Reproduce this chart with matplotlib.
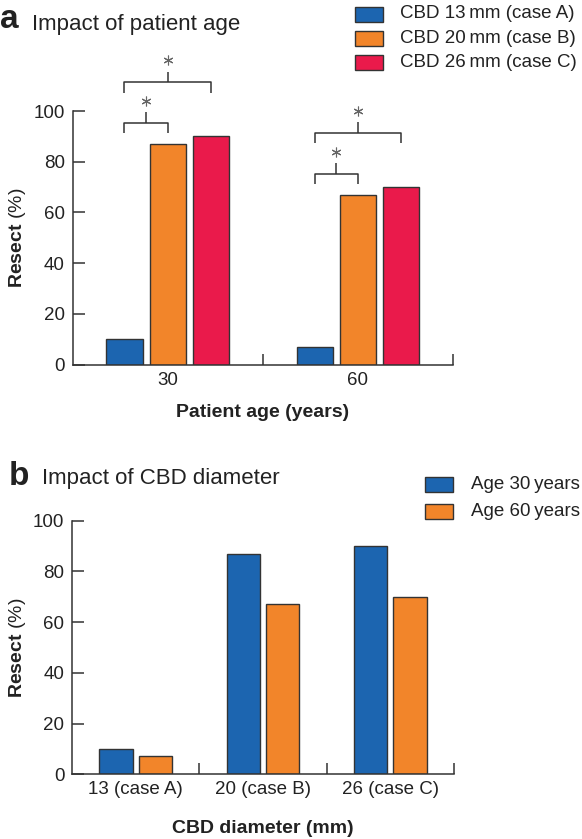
import matplotlib
matplotlib.use("Agg")
import matplotlib.pyplot as plt
from matplotlib.patches import Rectangle

plt.rcParams["font.family"] = ["Liberation Sans", "DejaVu Sans"]
plt.rcParams["mathtext.fontset"] = "custom"
plt.rcParams["mathtext.rm"] = "Liberation Sans"
plt.rcParams["mathtext.bf"] = "Liberation Sans:bold"

# --- data ---
ages = ["30", "60"]
cases = ["13 (case A)", "20 (case B)", "26 (case C)"]
case_keys = ["CBD 13\u2009mm (case A)", "CBD 20\u2009mm (case B)", "CBD 26\u2009mm (case C)"]
age_keys = ["Age 30\u2009years", "Age 60\u2009years"]
resect_age30 = [10, 87, 90]
resect_age60 = [7, 67, 70]

BLUE = "#1c65b0"
ORANGE = "#f2852a"
RED = "#ea1a4b"
EDGE = "#333333"
INK = "#222222"
case_colors = [BLUE, ORANGE, RED]
age_colors = [BLUE, ORANGE]

W, H = 582, 839
fig = plt.figure(figsize=(W / 100, H / 100), dpi=100)


def fx(px):
    return px / W


def fy(py):
    return 1 - py / H


def style_axes(ax, n_groups):
    for s in ["top", "right"]:
        ax.spines[s].set_visible(False)
    for s in ["left", "bottom"]:
        ax.spines[s].set_color(EDGE)
        ax.spines[s].set_linewidth(1.1)
    ax.set_ylim(0, 100)
    ax.set_xlim(-0.5, n_groups - 0.5)
    ax.set_yticks(range(0, 101, 20))
    ax.tick_params(axis="y", direction="in", length=8.6, width=1.1, color=EDGE,
                   labelsize=13.5, labelcolor=INK, pad=5.5)
    ax.tick_params(axis="x", which="major", length=0, labelsize=13.5,
                   labelcolor=INK, pad=5)
    ax.set_xticks([i + 0.5 for i in range(n_groups)], minor=True)
    ax.tick_params(axis="x", which="minor", direction="in", length=8,
                   width=1.1, color=EDGE)


def bracket(ax, x0, x1, y, leg=4.1, stem=4.2, star=8.7):
    kw = dict(color=EDGE, lw=1.1, clip_on=False, solid_capstyle="butt")
    ax.plot([x0, x0, x1, x1], [y - leg, y, y, y - leg], **kw)
    xm = (x0 + x1) / 2
    ax.plot([xm, xm], [y, y + stem], **kw)
    ax.plot([xm], [y + star], marker=(6, 2, 0), ms=7, mew=0.8,
            color="#666666", clip_on=False)


def draw_key(x_box, x_text, y0, dy, colors, labels):
    for i, (c, lab) in enumerate(zip(colors, labels)):
        yc = y0 + i * dy
        fig.add_artist(Rectangle((fx(x_box), fy(yc + 7.5)), 28 / W, 15 / H,
                                 transform=fig.transFigure, facecolor=c,
                                 edgecolor=EDGE, lw=1.0))
        fig.text(fx(x_text), fy(yc), lab, fontsize=13.5, color=INK,
                 ha="left", va="center")


# --- panel a: impact of patient age ---
ax_a = fig.add_axes([fx(72.5), fy(364.7), (453 - 72.5) / W, (364.7 - 111) / H])
offs_a = [-0.227, 0.0, 0.227]
groups = range(len(ages))
for i in range(len(cases)):
    vals = [resect_age30[i], resect_age60[i]]
    ax_a.bar([g + offs_a[i] for g in groups], vals, width=0.19,
             color=case_colors[i], edgecolor=EDGE, lw=1.0)
style_axes(ax_a, len(ages))
ax_a.set_xticks(list(groups))
ax_a.set_xticklabels(ages)
ax_a.set_xlabel("Patient age (years)", fontsize=14, fontweight="bold",
                color=INK, labelpad=11)

for g, vals in zip(groups, [resect_age30, resect_age60]):
    y_small = vals[1] + 8.3
    bracket(ax_a, g + offs_a[0], g + offs_a[1], y_small)
    bracket(ax_a, g + offs_a[0], g + offs_a[2], y_small + 16)

# --- panel b: impact of CBD diameter ---
ax_b = fig.add_axes([fx(72), fy(774.2), (454 - 72) / W, (774.2 - 520.7) / H])
offs_b = [-0.155, 0.155]
xs = range(len(cases))
for j, vals in enumerate([resect_age30, resect_age60]):
    ax_b.bar([x + offs_b[j] for x in xs], vals, width=0.263,
             color=age_colors[j], edgecolor=EDGE, lw=1.0)
style_axes(ax_b, len(cases))
ax_b.set_xticks(list(xs))
ax_b.set_xticklabels(cases)
ax_b.set_xlabel("CBD diameter (mm)", fontsize=14, fontweight="bold",
                color=INK, labelpad=15.5)

# y labels (bold word, regular unit)
for yc in [238, 647.5]:
    fig.text(fx(17.5), fy(yc), r"$\mathbf{Resect}$ (%)", rotation=90,
             fontsize=14, color=INK, ha="center", va="center")

# panel titles
fig.text(fx(0), fy(28), "a", fontsize=24, fontweight="bold", color=INK,
         va="baseline")
fig.text(fx(32), fy(30), "Impact of patient age", fontsize=16, color=INK,
         va="baseline")
fig.text(fx(9), fy(484.5), "b", fontsize=24, fontweight="bold", color=INK,
         va="baseline")
fig.text(fx(42), fy(484), "Impact of CBD diameter", fontsize=16, color=INK,
         va="baseline")

# keys
draw_key(355, 400, 14, 24.3, case_colors, case_keys)
draw_key(425, 471, 484.5, 26.5, age_colors, age_keys)

fig.savefig("out.png", dpi=100)
